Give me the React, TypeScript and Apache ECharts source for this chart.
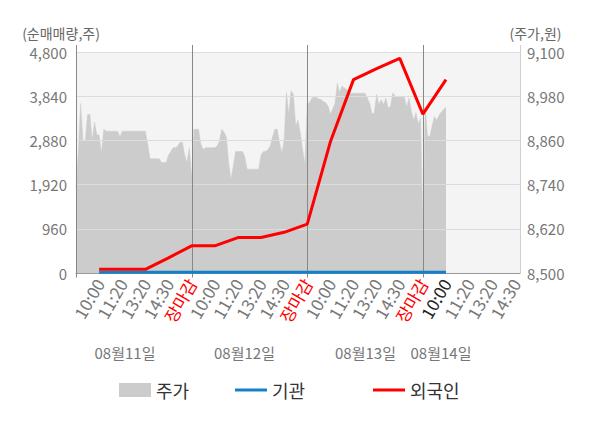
import React, { useEffect, useRef } from 'react';
import * as echarts from 'echarts';

// labelled ticks every 10 categories (index 10, 20, ... 190)
const tickLabels = [
  '10:00', '11:20', '13:20', '14:30', '장마감',
  '10:00', '11:20', '13:20', '14:30', '장마감',
  '10:00', '11:20', '13:20', '14:30', '장마감',
  '10:00', '11:20', '13:20', '14:30',
];
const dayLabels = ['08월11일', '08월12일', '08월13일', '08월14일'];
const categoryCount = 193;
const pointsPerTick = 10;
const dayBoundaryIdx = [0, 50, 100, 150];

// 주가 (원), one value per category
const priceDay1 = [
  8730, 8830, 8960, 8860, 8860, 8930, 8930, 8860, 8910, 8875,
  8875, 8825, 8890, 8885, 8885, 8885, 8885, 8885, 8885, 8870,
  8885, 8885, 8885, 8885, 8885, 8885, 8885, 8885, 8885, 8885,
  8885, 8850, 8810, 8810, 8810, 8810, 8810, 8800, 8800, 8800,
  8820, 8830, 8840, 8840, 8845, 8855, 8855, 8820, 8800, 8840,
  8760,
];
const priceDay2 = [
  8890, 8890, 8890, 8850, 8835, 8840, 8840, 8840, 8840, 8840,
  8845, 8857, 8890, 8882, 8870, 8800, 8753, 8790, 8830, 8830,
  8830, 8830, 8815, 8782, 8782, 8782, 8782, 8782, 8782, 8820,
  8830, 8830, 8835, 8845, 8870, 8890, 8890, 8855, 8825, 8860,
  8990, 8930, 8995, 8985, 8900, 8915, 8880, 8835, 8795, 8960,
];
const priceDay3 = [
  8962, 8975, 8977, 8977, 8972, 8971, 8965, 8962, 8953, 8932,
  8945, 8960, 9015, 8990, 9007, 9003, 8998, 8995, 8988, 8988,
  8988, 8988, 8988, 8988, 8988, 8975, 8960, 8932, 8935, 8985,
  8957, 8971, 8957, 8975, 8948, 8953, 8989, 8980, 8977, 8977,
  8977, 8977, 8950, 8975, 8940, 8915, 8935, 8905, 8920, 8630,
];
const priceDay4 = [8950, 8871, 8871, 8900, 8925, 8915, 8928, 8937, 8944, 8950];

// 순매매량 (주) at labelled ticks 10:00(d1) ... 10:00(d4)
const foreignNet = [80, 80, 80, 330, 590, 590, 770, 770, 884, 1060, 2850, 4200, 4440, 4660, 3450, 4200];
const institutionNet = [15, 15, 15, 15, 15, 15, 15, 15, 15, 15, 15, 15, 15, 15, 15, 15];

const leftTicks = [0, 960, 1920, 2880, 3840, 4800];
const rightTicks = [8500, 8620, 8740, 8860, 8980, 9100];

const FONT = '"Noto Sans CJK KR", "Noto Sans", sans-serif';

export default function App() {
  const ref = useRef<HTMLDivElement>(null);

  useEffect(() => {
    if (!ref.current) return;
    document.body.style.margin = '0';
    const chart = echarts.init(ref.current, undefined, { renderer: 'svg' });

    const categories = Array.from({ length: categoryCount }, (_, i) => String(i));
    const priceAll = [...priceDay1, ...priceDay2, ...priceDay3, ...priceDay4];
    const priceData = categories.map((_, i) => (i < priceAll.length ? priceAll[i] : null));
    const foreignData: (number | null)[] = categories.map(() => null);
    const instData: (number | null)[] = categories.map(() => null);
    foreignNet.forEach((v, k) => (foreignData[(k + 1) * pointsPerTick] = v));
    institutionNet.forEach((v, k) => (instData[(k + 1) * pointsPerTick] = v));

    const fmt = (v: number) => v.toLocaleString('en-US');

    chart.setOption({
      animation: false,
      textStyle: { fontFamily: FONT },
      grid: {
        left: 76, right: 80, top: 52, bottom: 155,
        show: true, backgroundColor: '#f4f4f4', borderWidth: 0,
      },
      legend: [
        { data: [{ name: '주가', icon: 'rect' }], left: 114, top: 376, itemWidth: 32, itemHeight: 14,
          selectedMode: false, textStyle: { fontSize: 18, color: '#333', fontFamily: FONT } },
        { data: [{ name: '기관', icon: 'rect' }], left: 230, top: 376, itemWidth: 32, itemHeight: 3,
          selectedMode: false, textStyle: { fontSize: 18, color: '#333', fontFamily: FONT } },
        { data: [{ name: '외국인', icon: 'rect' }], left: 368, top: 376, itemWidth: 32, itemHeight: 3,
          selectedMode: false, textStyle: { fontSize: 18, color: '#333', fontFamily: FONT } },
      ],
      xAxis: {
        type: 'category',
        data: categories,
        boundaryGap: false,
        z: 3,
        axisLine: { show: true, lineStyle: { color: '#999', width: 1 } },
        axisTick: { show: false },
        splitLine: { show: false },
        axisLabel: {
          interval: (i: number) => i > 0 && i % pointsPerTick === 0 && i / pointsPerTick <= tickLabels.length,
          formatter: (v: string) => tickLabels[Number(v) / pointsPerTick - 1] ?? '',
          color: (v: string) => {
            const lab = tickLabels[Number(v) / pointsPerTick - 1];
            if (lab === '장마감') return '#ff0000';
            if (Number(v) === 160) return '#222';
            return '#777';
          },
          rotate: 60,
          fontSize: 17,
          margin: 7,
          fontFamily: FONT,
        },
      },
      yAxis: [
        {
          type: 'value', position: 'left', min: 0, max: 4800, interval: 960, z: 3,
          axisLine: { show: false }, axisTick: { show: false },
          axisLabel: { formatter: fmt, color: '#777', fontSize: 15, margin: 9, fontFamily: FONT,
            customValues: leftTicks, padding: [3, 0, 0, 0] },
          splitLine: { show: true, lineStyle: { color: '#dcdcdc', width: 1 } },
        },
        {
          type: 'value', position: 'right', min: 8500, max: 9100, z: 3,
          axisLine: { show: false }, axisTick: { show: false },
          axisLabel: { formatter: fmt, color: '#777', fontSize: 15, margin: 7, fontFamily: FONT,
            customValues: rightTicks, padding: [3, 0, 0, 0] },
          splitLine: { show: false },
        },
      ],
      series: [
        {
          name: '주가', type: 'line', yAxisIndex: 1, data: priceData,
          symbol: 'none', z: 2,
          lineStyle: { width: 0.5, color: '#cccccc' },
          itemStyle: { color: '#cccccc' },
          areaStyle: { color: '#cccccc', opacity: 1, origin: 'start' },
        },
        {
          name: '기관', type: 'line', yAxisIndex: 0, data: instData, connectNulls: true,
          symbol: 'none', z: 5,
          lineStyle: { width: 3, color: '#1580c8' },
          itemStyle: { color: '#1580c8' },
        },
        {
          name: '외국인', type: 'line', yAxisIndex: 0, data: foreignData, connectNulls: true,
          symbol: 'none', z: 6,
          lineStyle: { width: 3, color: '#ff0000' },
          itemStyle: { color: '#ff0000' },
        },
      ],
    });

    const xPix = (i: number) => chart.convertToPixel({ xAxisIndex: 0 }, i) as number;
    const yTop = (chart.convertToPixel({ yAxisIndex: 0 }, 4800) as number) - 7;
    const yBot = chart.convertToPixel({ yAxisIndex: 0 }, 0) as number;
    const snap = (x: number) => Math.round(x) + 0.5;

    const graphics: any[] = [];
    dayBoundaryIdx.forEach((i) => {
      const x = snap(xPix(i));
      graphics.push({ type: 'line', z: 4, silent: true,
        shape: { x1: x, y1: yTop, x2: x, y2: yBot + 4.5 },
        style: { stroke: '#888', lineWidth: 1 } });
    });
    const xr = snap(xPix(categoryCount - 1));
    graphics.push({ type: 'line', z: 4, silent: true,
      shape: { x1: xr, y1: yTop, x2: xr, y2: yBot },
      style: { stroke: '#cfcfcf', lineWidth: 1 } });

    const dayCenters = [125, 244.5, 365.5, 441];
    dayLabels.forEach((t, k) => {
      graphics.push({ type: 'text', x: dayCenters[k], y: 352, silent: true,
        style: { text: t, fill: '#777', fontSize: 15, fontFamily: FONT, align: 'center', verticalAlign: 'middle' } });
    });
    graphics.push({ type: 'text', x: 61, y: 33, silent: true,
      style: { text: '(순매매량,주)', fill: '#666', fontSize: 14, fontFamily: FONT, align: 'center', verticalAlign: 'middle' } });
    graphics.push({ type: 'text', x: 535.5, y: 33, silent: true,
      style: { text: '(주가,원)', fill: '#666', fontSize: 14, fontFamily: FONT, align: 'center', verticalAlign: 'middle' } });

    chart.setOption({ graphic: graphics });

    return () => chart.dispose();
  }, []);

  return <div ref={ref} style={{ width: 600, height: 428 }} />;
}
